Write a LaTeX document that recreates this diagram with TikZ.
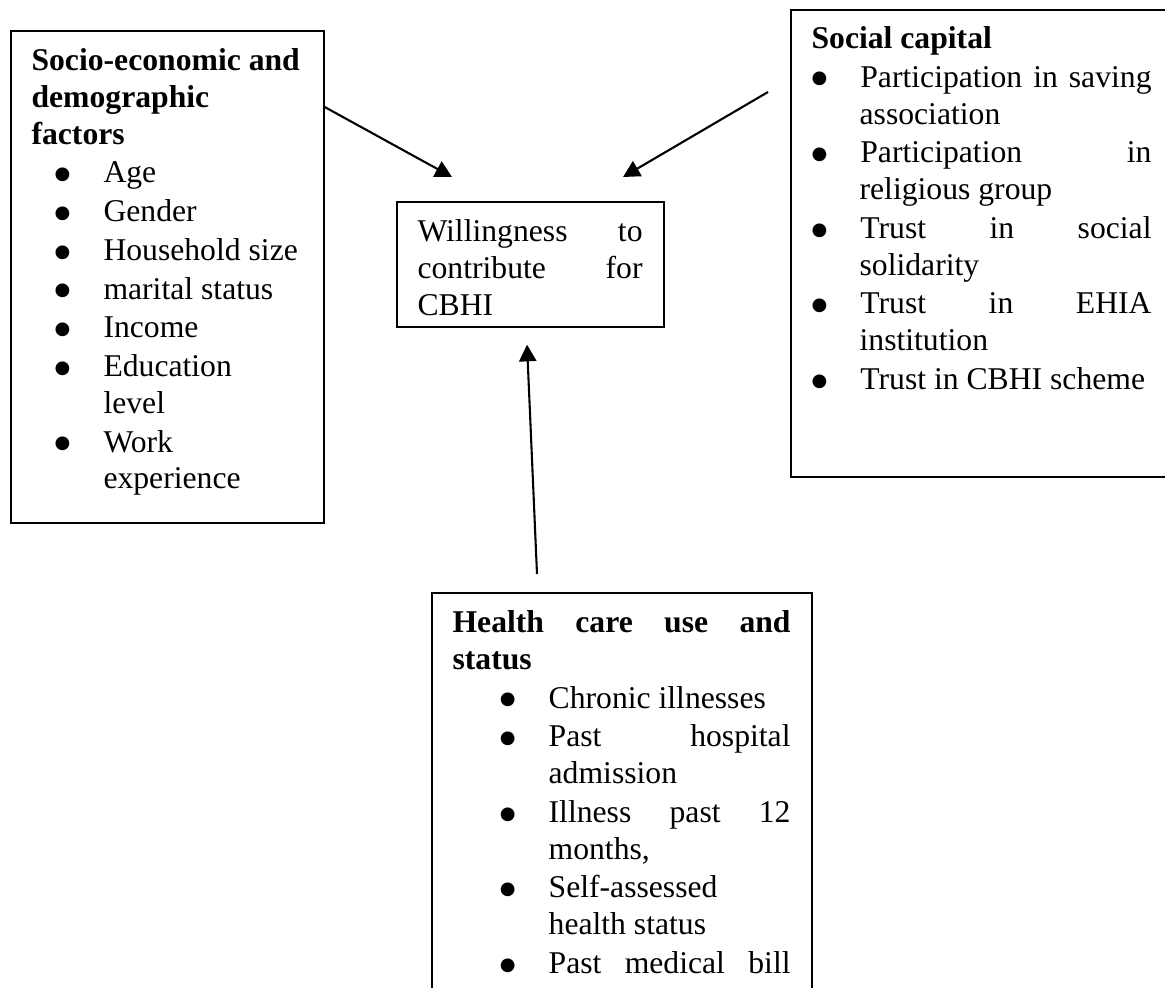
\documentclass[tikz,border=0pt]{standalone}
\usepackage{fontspec}
\setmainfont{Liberation Serif}
\newfontfamily\dotfont{DejaVu Sans}
\usetikzlibrary{arrows.meta,positioning,calc}
\newcommand{\px}{0.36pt}
\newcommand{\bigbullet}{\raisebox{1.2pt}{\dotfont\fontsize{6.5}{6.5}\selectfont ●}}
% bullet list used inside the boxes
\newenvironment{factlist}[1]{%
  \begin{list}{\bigbullet}{\setlength{\leftmargin}{#1}\setlength{\labelsep}{11.9pt}%
    \setlength{\labelwidth}{\dimexpr#1-11.9pt\relax}\setlength{\itemsep}{0.7pt}%
    \setlength{\parsep}{0pt}\setlength{\topsep}{0.7pt}\setlength{\partopsep}{0pt}}}
  {\end{list}}

\begin{document}
\begin{tikzpicture}[x=\px, y=-\px,
  frame/.style={draw, line width=0.6pt, inner sep=0pt, anchor=north west},
  txt/.style={anchor=north west, inner sep=0pt, align=justify,
    font=\fontsize{11.4}{13.25}\selectfont},
  arr/.style={-{Triangle[length=6pt,width=6.2pt]}, line width=0.75pt}
]
  \useasboundingbox (0,0) rectangle (1165,987);
  \clip (0,0) rectangle (1165,987);

  % Boxes
  \node[frame, minimum width=313*\px, minimum height=492*\px] (socio)  at (10,30)   {};
  \node[frame, minimum width=267*\px, minimum height=125*\px] (will)   at (396,201)  {};
  \node[frame, minimum width=400*\px, minimum height=467*\px] (social) at (790,9)    {};
  \node[frame, minimum width=380*\px, minimum height=450*\px] (health) at (431,592)  {};

  % Texts
  \node[txt, text width=274*\px] (sociotxt) at ($(socio.north west)+(21,14.2)$)
    {{\bfseries\strut Socio-economic and\\demographic\\factors\par}
     \begin{factlist}{25.9pt}
       \item Age
       \item Gender
       \item Household size
       \item marital status
       \item Income
       \item Education\\level
       \item Work\\experience
     \end{factlist}};
  \node[txt, text width=225*\px] (willtxt) at ($(will.north west)+(21,14.2)$)
    {\strut Willingness to\linebreak contribute for\linebreak CBHI};
  \node[txt, text width=340*\px] (socialtxt) at ($(social.north west)+(21,13.2)$)
    {{\bfseries\strut Social capital\par}
     \begin{factlist}{17.3pt}
       \item Participation in saving\linebreak association
       \item Participation in\linebreak religious group
       \item Trust in social\linebreak solidarity
       \item Trust in EHIA\linebreak institution
       \item Trust in CBHI scheme
     \end{factlist}};
  \node[txt, text width=338*\px] (healthtxt) at ($(health.north west)+(21,14.2)$)
    {{\bfseries\strut Health care use and\linebreak status\par}
     \begin{factlist}{34.6pt}
       \item Chronic illnesses
       \item Past hospital\linebreak admission
       \item Illness past 12\linebreak months,
       \item Self-assessed\\health status
       \item Past\hfill medical\hfill bill
     \end{factlist}};

  % Arrows
  \draw[arr] ($(socio.north east)+(0,77)$) -- ($(will.north west)+(56,-24)$);
  \draw[arr] ($(social.north west)+(-22,83)$) -- ($(will.north west)+(227,-24)$);
  \draw[arr] ($(health.north west)+(106,-18)$) -- ($(will.south west)+(131,17)$);
\end{tikzpicture}
\end{document}
